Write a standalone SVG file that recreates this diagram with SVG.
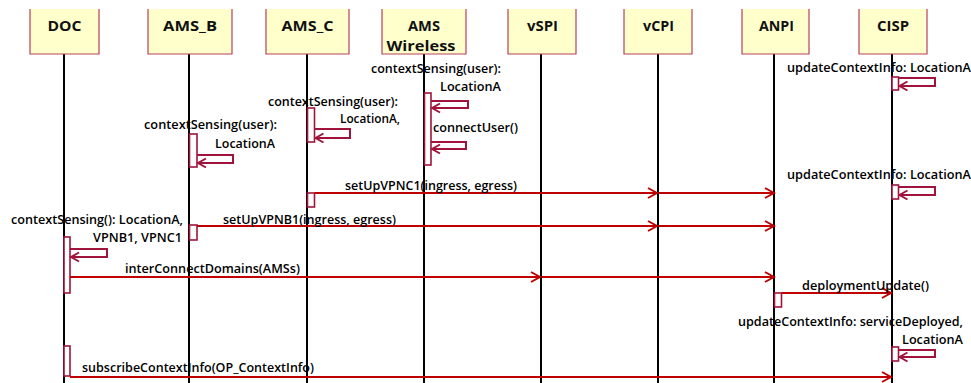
<svg xmlns="http://www.w3.org/2000/svg" width="971" height="383" viewBox="0 0 971 383">
<style>
.hd{fill:#FFFFCC;stroke:none}
.hb{fill:none;stroke:#B8405E;stroke-width:1.2}
.ht{font-family:"Open Sans","Liberation Sans",Arial,sans-serif;font-weight:bold;font-size:14px;fill:#111;text-anchor:middle}
.ll{stroke:#000;stroke-width:2}
.act{fill:#fff;stroke:#A0143C;stroke-width:1.6}
.msg{fill:none;stroke:#C00000;stroke-width:2;marker-end:url(#arr)}
.self{fill:none;stroke:#A0143C;stroke-width:2;marker-end:url(#sarr)}
.lb{font-family:"Open Sans","Liberation Sans",Arial,sans-serif;font-size:12.5px;font-weight:600;fill:#000}
</style>
<defs>
<marker id="arr" markerUnits="userSpaceOnUse" markerWidth="12" markerHeight="12" refX="10" refY="6" orient="auto" viewBox="0 0 12 12">
<path d="M1,1 L10,6 L1,11" fill="none" stroke="#C00000" stroke-width="2"/>
</marker>
<marker id="sarr" markerUnits="userSpaceOnUse" markerWidth="12" markerHeight="12" refX="10" refY="6" orient="auto" viewBox="0 0 12 12">
<path d="M2,1.5 L10,6 L2,10.5" fill="none" stroke="#A0143C" stroke-width="2"/>
</marker>
</defs>
<rect width="971" height="383" fill="#fff"/>

<g id="lifelines">
<line class="ll" x1="64" y1="54" x2="64" y2="383"/>
<line class="ll" x1="189" y1="54" x2="189" y2="383"/>
<line class="ll" x1="307" y1="54" x2="307" y2="383"/>
<line class="ll" x1="424" y1="54" x2="424" y2="383"/>
<line class="ll" x1="541" y1="54" x2="541" y2="383"/>
<line class="ll" x1="658" y1="54" x2="658" y2="383"/>
<line class="ll" x1="774" y1="54" x2="774" y2="383"/>
<line class="ll" x1="892" y1="54" x2="892" y2="383"/>
</g>

<g id="DOC">
<rect class="hd" x="30" y="9" width="69" height="45"/>
<path class="hb" d="M30,9 V54 H99 V9"/>
<text class="ht" x="64.5" y="31" textLength="34" lengthAdjust="spacingAndGlyphs">DOC</text>
</g>
<g id="AMS_B">
<rect class="hd" x="148" y="9" width="84" height="45"/>
<path class="hb" d="M148,9 V54 H232 V9"/>
<text class="ht" x="190" y="31" textLength="54" lengthAdjust="spacingAndGlyphs">AMS_B</text>
</g>
<g id="AMS_C">
<rect class="hd" x="266" y="9" width="83" height="45"/>
<path class="hb" d="M266,9 V54 H349 V9"/>
<text class="ht" x="307.5" y="31" textLength="52" lengthAdjust="spacingAndGlyphs">AMS_C</text>
</g>
<g id="AMS_Wireless">
<rect class="hd" x="382" y="9" width="84" height="45"/>
<path class="hb" d="M382,9 V54 H466 V9"/>
<text class="ht" x="424" y="31" textLength="32" lengthAdjust="spacingAndGlyphs">AMS</text>
<text class="ht" x="421" y="51" textLength="69" lengthAdjust="spacingAndGlyphs">Wireless</text>
</g>
<g id="vSPI">
<rect class="hd" x="508" y="9" width="68" height="45"/>
<path class="hb" d="M508,9 V54 H576 V9"/>
<text class="ht" x="542.5" y="31" textLength="31" lengthAdjust="spacingAndGlyphs">vSPI</text>
</g>
<g id="vCPI">
<rect class="hd" x="624" y="9" width="68" height="45"/>
<path class="hb" d="M624,9 V54 H692 V9"/>
<text class="ht" x="658.5" y="31" textLength="31" lengthAdjust="spacingAndGlyphs">vCPI</text>
</g>
<g id="ANPI">
<rect class="hd" x="742" y="9" width="67" height="45"/>
<path class="hb" d="M742,9 V54 H809 V9"/>
<text class="ht" x="776.5" y="31" textLength="35" lengthAdjust="spacingAndGlyphs">ANPI</text>
</g>
<g id="CISP">
<rect class="hd" x="859" y="9" width="68" height="45"/>
<path class="hb" d="M859,9 V54 H927 V9"/>
<text class="ht" x="893" y="31" textLength="32" lengthAdjust="spacingAndGlyphs">CISP</text>
</g>

<g id="activations">
<rect class="act" x="424.5" y="93" width="6.5" height="72"/>
<rect class="act" x="307.5" y="108" width="7" height="34"/>
<rect class="act" x="189.5" y="134" width="7.5" height="33"/>
<rect class="act" x="892" y="77" width="6.5" height="13"/>
<rect class="act" x="892" y="185" width="6.5" height="14"/>
<rect class="act" x="307.5" y="193" width="7" height="14"/>
<rect class="act" x="189.5" y="225" width="7.5" height="15"/>
<rect class="act" x="64" y="237" width="6" height="56"/>
<rect class="act" x="774.5" y="293" width="7" height="14"/>
<rect class="act" x="892" y="347" width="6.5" height="14"/>
<rect class="act" x="64" y="346" width="6" height="30"/>
</g>

<g id="connectors">
<path class="self" d="M431,101 H468 V108 H432"/>
<path class="self" d="M431,142 H466 V149 H432"/>
<path class="self" d="M314.5,129 H350 V138 H315.5"/>
<path class="self" d="M197,155 H233 V163 H198"/>
<path class="self" d="M898.5,78 H935 V86 H899.5"/>
<path class="self" d="M898.5,187 H935 V195 H899.5"/>
<path class="self" d="M70,249 H107 V257 H71"/>
<path class="self" d="M898.5,350 H935 V357 H899.5"/>

<path class="msg" d="M314.5,193 H657"/>
<path class="msg" d="M659,193 H774"/>
<path class="msg" d="M197,226 H657"/>
<path class="msg" d="M659,226 H774"/>
<path class="msg" d="M70,277 H540"/>
<path class="msg" d="M542,277 H774"/>
<path class="msg" d="M781.5,293 H891"/>
<path class="msg" d="M70,377 H891"/>
</g>

<g id="labels">
<text class="lb" x="371" y="73" textLength="130" lengthAdjust="spacingAndGlyphs">contextSensing(user):</text>
<text class="lb" x="440" y="91" textLength="61" lengthAdjust="spacingAndGlyphs">LocationA</text>
<text class="lb" x="433" y="132" textLength="85" lengthAdjust="spacingAndGlyphs">connectUser()</text>
<text class="lb" x="268" y="106" textLength="130" lengthAdjust="spacingAndGlyphs">contextSensing(user):</text>
<text class="lb" x="340" y="123" textLength="60" lengthAdjust="spacingAndGlyphs">LocationA,</text>
<text class="lb" x="144" y="129" textLength="133" lengthAdjust="spacingAndGlyphs">contextSensing(user):</text>
<text class="lb" x="215" y="148" textLength="60" lengthAdjust="spacingAndGlyphs">LocationA</text>
<text class="lb" x="787" y="72" textLength="184" lengthAdjust="spacingAndGlyphs">updateContextInfo: LocationA</text>
<text class="lb" x="787" y="179" textLength="184" lengthAdjust="spacingAndGlyphs">updateContextInfo: LocationA</text>
<text class="lb" x="345" y="190" textLength="172" lengthAdjust="spacingAndGlyphs">setUpVPNC1(ingress, egress)</text>
<text class="lb" x="223" y="224" textLength="173" lengthAdjust="spacingAndGlyphs">setUpVPNB1(ingress, egress)</text>
<text class="lb" x="11" y="224" textLength="172" lengthAdjust="spacingAndGlyphs">contextSensing(): LocationA,</text>
<text class="lb" x="93" y="242" textLength="89" lengthAdjust="spacingAndGlyphs">VPNB1, VPNC1</text>
<text class="lb" x="125" y="273" textLength="175" lengthAdjust="spacingAndGlyphs">interConnectDomains(AMSs)</text>
<text class="lb" x="802" y="290" textLength="127" lengthAdjust="spacingAndGlyphs">deploymentUpdate()</text>
<text class="lb" x="738" y="326" textLength="225" lengthAdjust="spacingAndGlyphs">updateContextInfo: serviceDeployed,</text>
<text class="lb" x="902" y="344" textLength="61" lengthAdjust="spacingAndGlyphs">LocationA</text>
<text class="lb" x="82" y="372" textLength="232" lengthAdjust="spacingAndGlyphs">subscribeContextInfo(OP_ContextInfo)</text>
</g>
</svg>
